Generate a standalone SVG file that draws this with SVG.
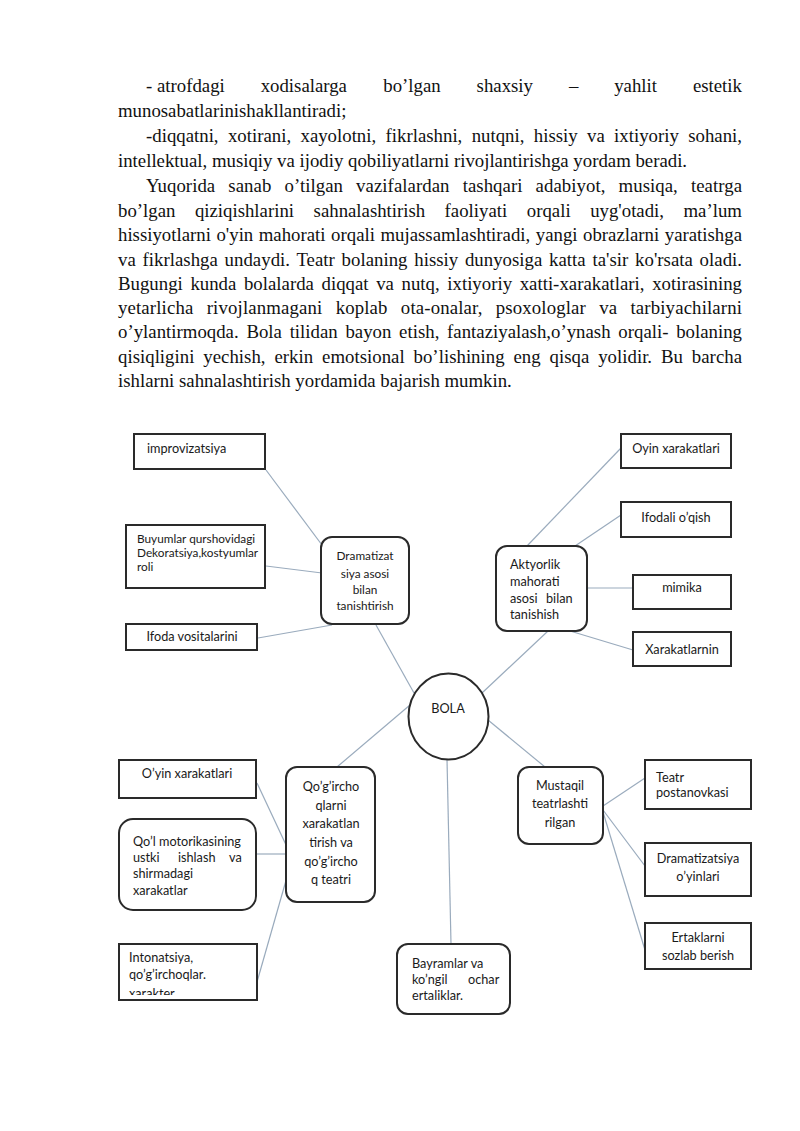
<svg xmlns="http://www.w3.org/2000/svg" width="800" height="1131" viewBox="0 0 800 1131">
<style>
.body{font-family:"Liberation Serif","Times New Roman",serif;font-size:18.8px;fill:#111}
.lbl{font-family:Lato,"Open Sans","Liberation Sans",sans-serif;font-size:12.7px;fill:#1a1a1a}
.mid{text-anchor:middle}
.box{fill:#fff;stroke:#2a2a2a;stroke-width:2}
.con{stroke:#9aabbd;stroke-width:1.2;fill:none}
</style>
<defs>
<clipPath id="clipInto"><rect x="119" y="945" width="137" height="50"/></clipPath>
<clipPath id="clipXar"><rect x="634" y="633" width="96" height="32"/></clipPath>
</defs>
<rect width="800" height="1131" fill="#fff"/>
<g id="text">
<text class="body" y="92"><tspan x="146">- atrofdagi</tspan><tspan x="260.7">xodisalarga</tspan><tspan x="383.3">bo’lgan</tspan><tspan x="476.6">shaxsiy</tspan><tspan x="568.9">–</tspan><tspan x="614.2">yahlit</tspan><tspan x="692.9">estetik</tspan></text>
<text class="body" x="118" y="117">munosabatlarinishakllantiradi;</text>
<text class="body" x="146" y="142" style="word-spacing:4.65px" textLength="596" lengthAdjust="spacing">-diqqatni, xotirani, xayolotni, fikrlashni, nutqni, hissiy va ixtiyoriy sohani,</text>
<text class="body" x="118" y="167">intellektual, musiqiy va ijodiy qobiliyatlarni rivojlantirishga yordam beradi.</text>
<text class="body" x="146" y="192" style="word-spacing:8.4px" textLength="596" lengthAdjust="spacing">Yuqorida sanab o’tilgan vazifalardan tashqari adabiyot, musiqa, teatrga</text>
<text class="body" y="217"><tspan x="118">bo’lgan</tspan><tspan x="194.9">qiziqishlarini</tspan><tspan x="313.6">sahnalashtirish</tspan><tspan x="444.6">faoliyati</tspan><tspan x="526.8">orqali</tspan><tspan x="590.2">uyg'otadi,</tspan><tspan x="683.5">ma’lum</tspan></text>
<text class="body" x="118" y="241" style="word-spacing:0.8px" textLength="624" lengthAdjust="spacing">hissiyotlarni o'yin mahorati orqali mujassamlashtiradi, yangi obrazlarni yaratishga</text>
<text class="body" x="118" y="266" style="word-spacing:2px" textLength="624" lengthAdjust="spacing">va fikrlashga undaydi. Teatr bolaning hissiy dunyosiga katta ta'sir ko'rsata oladi.</text>
<text class="body" x="118" y="290" style="word-spacing:2.9px" textLength="624" lengthAdjust="spacing">Bugungi kunda bolalarda diqqat va nutq, ixtiyoriy xatti-xarakatlari, xotirasining</text>
<text class="body" x="118" y="314" style="word-spacing:8.4px" textLength="624" lengthAdjust="spacing">yetarlicha rivojlanmagani koplab ota-onalar, psoxologlar va tarbiyachilarni</text>
<text class="body" x="118" y="338" style="word-spacing:3px" textLength="624" lengthAdjust="spacing">o’ylantirmoqda. Bola tilidan bayon etish, fantaziyalash,o’ynash orqali- bolaning</text>
<text class="body" x="118" y="363" style="word-spacing:4.15px" textLength="624" lengthAdjust="spacing">qisiqligini yechish, erkin emotsional bo’lishining eng qisqa yolidir. Bu barcha</text>
<text class="body" x="118" y="387">ishlarni sahnalashtirish yordamida bajarish mumkin.</text>
</g>
<g id="connectors">
<line class="con" x1="266" y1="470" x2="322" y2="545"/>
<line class="con" x1="266" y1="566" x2="322" y2="573"/>
<line class="con" x1="258" y1="638" x2="332" y2="625"/>
<line class="con" x1="376" y1="625" x2="414" y2="693"/>
<line class="con" x1="527" y1="546" x2="621" y2="448"/>
<line class="con" x1="575" y1="546" x2="621" y2="515"/>
<line class="con" x1="588" y1="588" x2="633" y2="588"/>
<line class="con" x1="570" y1="631" x2="633" y2="650"/>
<line class="con" x1="548" y1="631" x2="482" y2="693"/>
<line class="con" x1="257" y1="783" x2="287" y2="847"/>
<line class="con" x1="256" y1="854" x2="287" y2="854"/>
<line class="con" x1="257" y1="982" x2="287" y2="877"/>
<line class="con" x1="337" y1="767" x2="410" y2="705"/>
<line class="con" x1="488" y1="720" x2="545" y2="767"/>
<line class="con" x1="603" y1="806" x2="645" y2="778"/>
<line class="con" x1="603" y1="810" x2="645" y2="866"/>
<line class="con" x1="603" y1="812" x2="645" y2="950"/>
<line class="con" x1="447" y1="759" x2="451" y2="944"/>
</g>
<g id="n-improvizatsiya"><rect class="box" x="134" y="434" width="131" height="35"/><text class="lbl" x="147" y="453">improvizatsiya</text></g>
<g id="n-buyumlar"><rect class="box" x="126" y="525" width="139" height="63"/><text class="lbl" style="font-size:11.8px"><tspan x="137" y="543">Buyumlar qurshovidagi</tspan><tspan x="137" y="557">Dekoratsiya,kostyumlar</tspan><tspan x="137" y="571">roli</tspan></text></g>
<g id="n-ifoda"><rect class="box" x="126" y="624" width="131" height="26"/><text class="lbl mid" x="192" y="641">Ifoda vositalarini</text></g>
<g id="n-dramatizatsiya"><rect class="box" x="321" y="537" width="88" height="87" rx="11"/><text class="lbl mid" style="font-size:11.8px"><tspan x="365" y="560">Dramatizat</tspan><tspan x="365" y="578">siya asosi</tspan><tspan x="365" y="594">bilan</tspan><tspan x="365" y="610">tanishtirish</tspan></text></g>
<g id="n-aktyorlik"><rect class="box" x="496" y="546" width="91" height="85" rx="11"/><text class="lbl"><tspan x="510" y="569">Aktyorlik</tspan><tspan x="510" y="586">mahorati</tspan><tspan x="510" y="603">asosi</tspan><tspan x="546" y="603">bilan</tspan><tspan x="510" y="619">tanishish</tspan></text></g>
<g id="n-oyin"><rect class="box" x="621" y="434" width="110" height="34"/><text class="lbl mid" x="676" y="453">Oyin xarakatlari</text></g>
<g id="n-ifodali"><rect class="box" x="621" y="502" width="110" height="35"/><text class="lbl mid" x="676" y="522">Ifodali o’qish</text></g>
<g id="n-mimika"><rect class="box" x="633" y="575" width="98" height="34"/><text class="lbl mid" x="682" y="592">mimika</text></g>
<g id="n-xarakatlarnin"><rect class="box" x="633" y="632" width="98" height="34"/><text class="lbl mid" x="682" y="654" clip-path="url(#clipXar)">Xarakatlarnin</text></g>
<g id="n-bola"><ellipse class="box" cx="448.5" cy="716.5" rx="40" ry="43"/><text class="lbl mid" x="448" y="713">BOLA</text></g>
<g id="n-oyin2"><rect class="box" x="119" y="760" width="137" height="38"/><text class="lbl mid" x="187" y="778">O’yin xarakatlari</text></g>
<g id="n-qol"><rect class="box" x="119" y="819" width="137" height="91" rx="14"/><text class="lbl"><tspan x="133" y="846">Qo’l motorikasining</tspan><tspan x="133" y="862">ustki</tspan><tspan x="178" y="862">ishlash</tspan><tspan x="229" y="862">va</tspan><tspan x="133" y="878">shirmadagi</tspan><tspan x="133" y="895">xarakatlar</tspan></text></g>
<g id="n-intonatsiya"><rect class="box" x="119" y="944" width="138" height="56"/><text class="lbl" clip-path="url(#clipInto)"><tspan x="129" y="962">Intonatsiya,</tspan><tspan x="129" y="979">qo’g’irchoqlar.</tspan><tspan x="129" y="998">xarakter</tspan></text></g>
<g id="n-qogirchoq"><rect class="box" x="286" y="767" width="89" height="135" rx="11"/><text class="lbl mid"><tspan x="331" y="791">Qo’g’ircho</tspan><tspan x="331" y="810">qlarni</tspan><tspan x="331" y="828">xarakatlan</tspan><tspan x="331" y="847">tirish va</tspan><tspan x="331" y="866">qo’g’ircho</tspan><tspan x="331" y="884">q teatri</tspan></text></g>
<g id="n-mustaqil"><rect class="box" x="518" y="767" width="85" height="77" rx="11"/><text class="lbl mid"><tspan x="560" y="790">Mustaqil</tspan><tspan x="560" y="808">teatrlashti</tspan><tspan x="560" y="827">rilgan</tspan></text></g>
<g id="n-teatr"><rect class="box" x="645" y="760" width="106" height="49"/><text class="lbl"><tspan x="656" y="782">Teatr</tspan><tspan x="656" y="797">postanovkasi</tspan></text></g>
<g id="n-dramatizatsiya2"><rect class="box" x="645" y="843" width="106" height="53"/><text class="lbl mid"><tspan x="698" y="863">Dramatizatsiya</tspan><tspan x="698" y="881">o’yinlari</tspan></text></g>
<g id="n-ertaklar"><rect class="box" x="645" y="923" width="106" height="46"/><text class="lbl mid"><tspan x="698" y="942">Ertaklarni</tspan><tspan x="698" y="960">sozlab berish</tspan></text></g>
<g id="n-bayramlar"><rect class="box" x="397" y="944" width="113" height="70" rx="11"/><text class="lbl"><tspan x="412" y="968">Bayramlar va</tspan><tspan x="412" y="984">ko’ngil</tspan><tspan x="468" y="984">ochar</tspan><tspan x="412" y="1000">ertaliklar.</tspan></text></g>
</svg>
